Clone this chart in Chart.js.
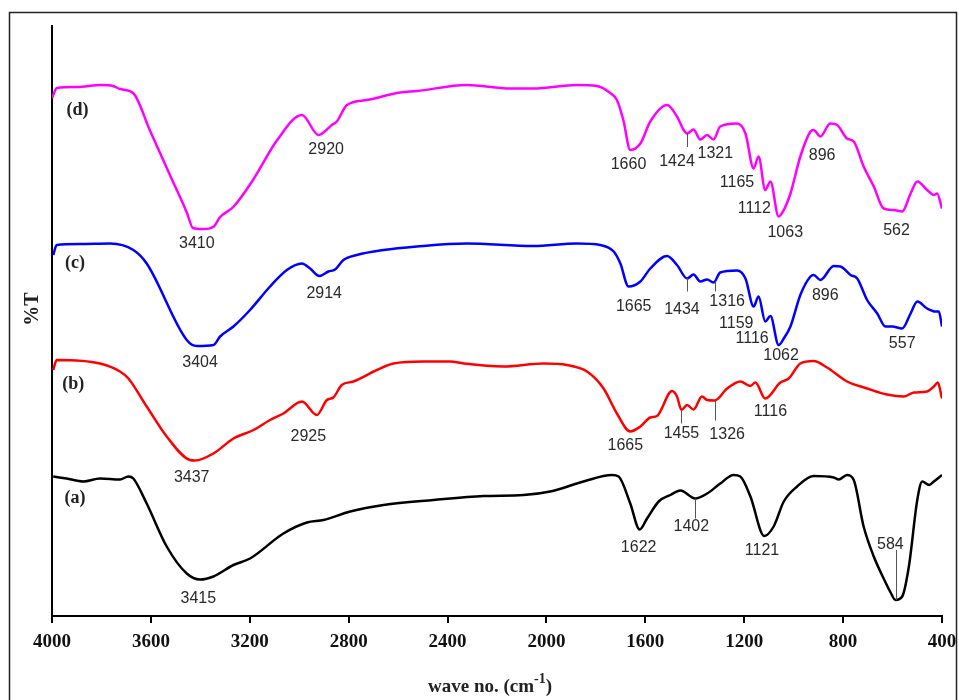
<!DOCTYPE html>
<html>
<head>
<meta charset="utf-8">
<title>FTIR spectra</title>
<script src="https://cdn.jsdelivr.net/npm/chart.js@4"></script>
<style>
  html, body { margin: 0; padding: 0; background: #fff; }
  #wrap { width: 959px; height: 700px; }
</style>
</head>
<body>
<div id="wrap"><canvas id="ftirChart" width="959" height="700"></canvas></div>
<script>
// spectra: wave number (cm-1) and offset %T
const waveD = [4000, 3980, 3900, 3800, 3753, 3725, 3672, 3603, 3523, 3454, 3430, 3390, 3348, 3320, 3267, 3187, 3089, 2989, 2922, 2868, 2848, 2807, 2726, 2592, 2524, 2322, 2146, 2053, 1877, 1796, 1742, 1715, 1689, 1661, 1620, 1580, 1512, 1472, 1445, 1431, 1405, 1378, 1350, 1324, 1297, 1229, 1195, 1162, 1142, 1115, 1094, 1061, 1040, 1013, 973, 932, 919, 892, 852, 824, 784, 757, 717, 676, 636, 595, 561, 527, 500, 460, 433, 420, 400];
const transD = [103.6, 105.6, 105.8, 106.2, 106.0, 105.4, 104.6, 97.0, 88.2, 80.6, 77.6, 77.4, 77.8, 79.8, 81.8, 87.2, 95.2, 100.2, 96.2, 98.2, 98.9, 102.2, 103.2, 104.7, 105.0, 106.2, 105.5, 105.5, 106.2, 106.0, 104.6, 103.2, 99.2, 93.2, 94.5, 98.9, 102.2, 99.9, 97.2, 96.5, 97.3, 95.3, 96.2, 95.3, 97.9, 98.5, 96.5, 89.5, 91.9, 85.2, 86.9, 79.9, 81.2, 84.5, 91.9, 96.9, 97.2, 95.9, 98.5, 98.2, 95.5, 94.9, 89.9, 85.9, 81.5, 81.2, 80.9, 84.5, 86.9, 85.2, 84.2, 84.5, 81.5];

const waveC = [3995, 3981, 3887, 3765, 3671, 3617, 3455, 3414, 3347, 3320, 3266, 3199, 3118, 3050, 2989, 2956, 2918, 2882, 2855, 2821, 2767, 2659, 2524, 2322, 2053, 1877, 1782, 1728, 1701, 1668, 1620, 1580, 1512, 1472, 1431, 1405, 1378, 1350, 1324, 1297, 1229, 1195, 1162, 1142, 1115, 1094, 1061, 1040, 1013, 973, 932, 919, 892, 838, 811, 770, 743, 703, 662, 629, 602, 561, 527, 500, 460, 426, 413, 400];
const transC = [72.2, 74.2, 74.4, 74.5, 73.2, 70.5, 55.2, 54.0, 54.2, 55.9, 57.9, 61.2, 65.9, 69.2, 70.5, 69.5, 68.0, 68.9, 69.3, 71.2, 72.2, 73.2, 73.9, 74.5, 74.0, 74.5, 74.2, 72.9, 70.5, 65.9, 66.9, 69.5, 72.0, 70.2, 67.5, 68.3, 66.9, 67.3, 66.7, 68.7, 69.1, 67.5, 61.9, 63.9, 58.9, 60.0, 54.2, 55.5, 57.9, 64.2, 67.9, 68.2, 67.2, 70.0, 69.9, 68.2, 67.5, 63.2, 60.5, 57.9, 57.9, 57.5, 60.5, 62.9, 61.5, 60.9, 60.9, 57.9];

const waveB = [3995, 3981, 3806, 3725, 3691, 3617, 3536, 3442, 3421, 3347, 3266, 3185, 3118, 3064, 2989, 2929, 2888, 2862, 2828, 2781, 2686, 2619, 2497, 2389, 2335, 2174, 2012, 1917, 1836, 1769, 1715, 1661, 1620, 1580, 1553, 1492, 1472, 1454, 1431, 1405, 1371, 1350, 1320, 1269, 1216, 1175, 1155, 1115, 1054, 1020, 973, 919, 865, 784, 703, 622, 555, 514, 460, 433, 417, 400];
const transB = [49.2, 51.2, 50.5, 48.9, 47.5, 41.9, 35.9, 31.2, 31.1, 32.5, 35.5, 37.2, 39.2, 40.5, 42.9, 40.2, 43.2, 43.7, 46.2, 46.9, 49.2, 50.5, 50.9, 50.9, 50.5, 49.9, 50.5, 50.2, 48.9, 45.5, 40.5, 36.9, 37.9, 39.7, 40.0, 45.0, 43.9, 41.2, 42.2, 41.3, 43.9, 43.2, 43.1, 45.5, 46.9, 46.0, 46.7, 43.5, 46.7, 47.5, 50.5, 51.0, 49.7, 46.9, 45.5, 44.3, 43.9, 44.7, 44.9, 45.9, 46.7, 43.5];

const waveA = [3995, 3941, 3873, 3806, 3725, 3691, 3671, 3617, 3536, 3455, 3401, 3347, 3266, 3199, 3064, 2969, 2902, 2794, 2659, 2457, 2254, 2093, 1985, 1850, 1735, 1708, 1661, 1623, 1593, 1546, 1499, 1458, 1398, 1350, 1297, 1243, 1216, 1175, 1119, 1081, 1040, 986, 919, 838, 818, 784, 757, 717, 676, 636, 609, 588, 561, 534, 500, 480, 452, 433, 400];
const transA = [27.9, 27.5, 26.9, 27.5, 27.3, 27.9, 27.5, 22.5, 13.9, 8.5, 7.3, 7.9, 10.2, 11.5, 16.5, 18.7, 19.2, 20.9, 22.2, 23.2, 24.0, 24.2, 24.9, 26.9, 28.2, 27.9, 22.5, 17.3, 19.5, 22.9, 24.2, 25.1, 23.5, 24.5, 26.5, 28.2, 27.9, 23.9, 16.0, 17.9, 22.9, 25.9, 28.0, 27.7, 27.3, 28.2, 27.2, 17.9, 11.9, 7.5, 4.8, 3.2, 3.9, 9.9, 23.2, 26.9, 26.2, 26.9, 28.2];

const xTicks = [4000, 3600, 3200, 2800, 2400, 2000, 1600, 1200, 800, 400];

// curve names and peak labels: [text, wave number, %T]
const seriesNames = [['(d)', 3897, 101.2], ['(c)', 3907, 70.5], ['(b)', 3914, 46.4], ['(a)', 3907, 23.5]];
const peakLabels = [
  ['3410', 3414, 74.5], ['2920', 2891, 93.3], ['1660', 1668, 90.3], ['1424', 1472, 90.9], ['1321', 1317, 92.4],
  ['1165', 1229, 86.7], ['1112', 1159, 81.5], ['1063', 1034, 76.7], ['896', 885, 92.0], ['562', 584, 77.0],
  ['3404', 3401, 50.7], ['2914', 2899, 64.5], ['1665', 1647, 61.9], ['1434', 1452, 61.3], ['1316', 1269, 62.9],
  ['1159', 1232, 58.4], ['1116', 1168, 55.5], ['1062', 1051, 52.0], ['896', 872, 64.0], ['557', 561, 54.5],
  ['3437', 3435, 27.7], ['2925', 2963, 35.9], ['1665', 1681, 34.0], ['1455', 1454, 36.5], ['1326', 1269, 36.2],
  ['1116', 1094, 40.9],
  ['3415', 3408, 3.5], ['1622', 1627, 13.7], ['1402', 1414, 17.9], ['1121', 1128, 13.0], ['584', 609, 14.3]
];
// little marker lines: [wave number, %T from, %T to]
const peakMarks = [
  [1431, 96.6, 93.8],
  [1431, 67.6, 64.9], [1320, 66.9, 64.9],
  [1454, 41.2, 38.5], [1320, 43.1, 39.1],
  [1398, 23.5, 19.5], [588, 13.2, 3.2]
];

function toPoints(waves, vals) {
  return waves.map((w, i) => ({ x: w, y: vals[i] }));
}

// ข้อความประกอบกราฟ (กรอบ, ชื่อแกน, ตัวเลขพีค)
const annotatePlugin = {
  id: 'annotate',
  beforeDraw(chart) {
    const ctx = chart.ctx;
    ctx.save();
    ctx.strokeStyle = '#222';
    ctx.lineWidth = 1.5;
    ctx.strokeRect(9.5, 12.5, 947, 700);
    ctx.restore();
  },
  afterDraw(chart) {
    const ctx = chart.ctx;
    const xs = chart.scales.x, ys = chart.scales.y;
    ctx.save();

    ctx.strokeStyle = '#555';
    ctx.lineWidth = 1;
    peakMarks.forEach(m => {
      const px = Math.round(xs.getPixelForValue(m[0])) + 0.5;
      ctx.beginPath();
      ctx.moveTo(px, ys.getPixelForValue(m[1]));
      ctx.lineTo(px, ys.getPixelForValue(m[2]));
      ctx.stroke();
    });

    ctx.textAlign = 'center';
    ctx.textBaseline = 'middle';
    ctx.fillStyle = '#2a2a2a';
    ctx.font = '16px "Liberation Sans", Arial, sans-serif';
    peakLabels.forEach(p => {
      ctx.fillText(p[0], xs.getPixelForValue(p[1]), ys.getPixelForValue(p[2]));
    });

    ctx.fillStyle = '#222';
    ctx.font = 'bold 18px "Liberation Serif", "Times New Roman", serif';
    seriesNames.forEach(s => {
      ctx.fillText(s[0], xs.getPixelForValue(s[1]), ys.getPixelForValue(s[2]));
    });

    // y title
    ctx.save();
    ctx.translate(33, 309);
    ctx.rotate(-Math.PI / 2);
    ctx.font = 'bold 20px "Liberation Serif", "Times New Roman", serif';
    ctx.fillText('%T', 0, 0);
    ctx.restore();

    // x title with superscript
    const mainFont = 'bold 19px "Liberation Serif", "Times New Roman", serif';
    const supFont = 'bold 14px "Liberation Serif", "Times New Roman", serif';
    ctx.textAlign = 'left';
    ctx.textBaseline = 'alphabetic';
    ctx.font = mainFont;
    const w1 = ctx.measureText('wave no. (cm').width;
    const w3 = ctx.measureText(')').width;
    ctx.font = supFont;
    const w2 = ctx.measureText('-1').width;
    let tx = 490 - (w1 + w2 + w3) / 2;
    const base = 692;
    ctx.font = mainFont;
    ctx.fillText('wave no. (cm', tx, base);
    ctx.font = supFont;
    ctx.fillText('-1', tx + w1, base - 9);
    ctx.font = mainFont;
    ctx.fillText(')', tx + w1 + w2, base);

    ctx.restore();
  }
};

const lineStyle = { borderWidth: 2.5, pointRadius: 0, fill: false, cubicInterpolationMode: 'monotone' };

const ftirChart = new Chart(document.getElementById('ftirChart').getContext('2d'), {
  type: 'line',
  data: {
    datasets: [
      Object.assign({ label: '(d)', data: toPoints(waveD, transD), borderColor: '#ff00ff' }, lineStyle),
      Object.assign({ label: '(c)', data: toPoints(waveC, transC), borderColor: '#0000ff' }, lineStyle),
      Object.assign({ label: '(b)', data: toPoints(waveB, transB), borderColor: '#ff0000' }, lineStyle),
      Object.assign({ label: '(a)', data: toPoints(waveA, transA), borderColor: '#000000' }, lineStyle)
    ]
  },
  options: {
    responsive: false,
    animation: false,
    layout: { padding: { left: 0, top: 26, right: 17, bottom: 0 } },
    plugins: { legend: { display: false }, tooltip: { enabled: false } },
    scales: {
      x: {
        type: 'linear',
        reverse: true,
        min: 400,
        max: 4000,
        afterFit(scale) { scale.height = 84; scale.paddingLeft = 0; scale.paddingRight = 0; },
        afterBuildTicks(scale) { scale.ticks = xTicks.map(v => ({ value: v })); },
        ticks: {
          color: '#111',
          padding: 8,
          maxRotation: 0,
          autoSkip: false,
          font: { family: '"Liberation Serif", "Times New Roman", serif', weight: 'bold', size: 19 },
          callback: v => String(v)
        },
        grid: { display: true, drawOnChartArea: false, drawTicks: true, tickLength: 7, color: '#000', lineWidth: 2 },
        border: { display: true, color: '#000', width: 2 }
      },
      y: {
        min: 0,
        max: 118,
        afterFit(scale) { scale.width = 52; },
        ticks: { display: false },
        grid: { display: false },
        border: { display: true, color: '#000', width: 2 }
      }
    }
  },
  plugins: [annotatePlugin]
});
</script>
</body>
</html>
